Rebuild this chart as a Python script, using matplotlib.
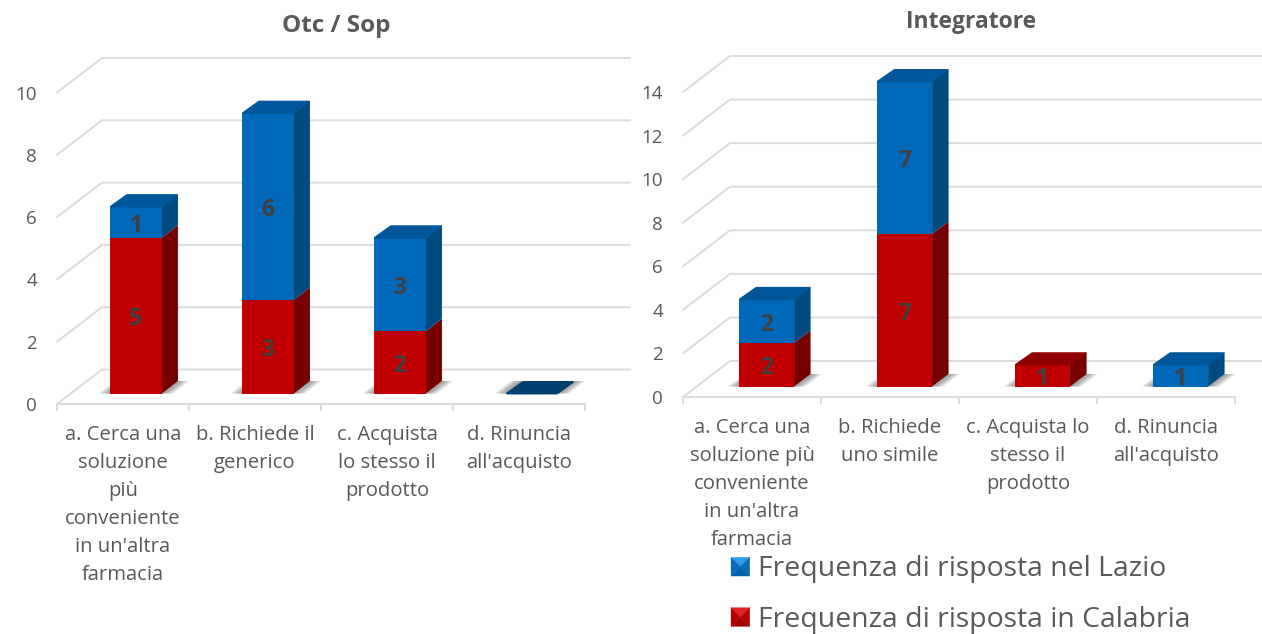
import matplotlib
matplotlib.use("Agg")
import matplotlib.pyplot as plt
from matplotlib.legend_handler import HandlerBase
from matplotlib.patches import Patch, Polygon

plt.rcParams["font.family"] = ["Open Sans", "DejaVu Sans"]

# Data
titles = ["Otc / Sop", "Integratore"]
labels_otc = ["a. Cerca una\nsoluzione\npiù\nconveniente\nin un'altra\nfarmacia",
              "b. Richiede il\ngenerico",
              "c. Acquista\nlo stesso il\nprodotto",
              "d. Rinuncia\nall'acquisto"]
labels_int = ["a. Cerca una\nsoluzione più\nconveniente\nin un'altra\nfarmacia",
              "b. Richiede\nuno simile",
              "c. Acquista lo\nstesso il\nprodotto",
              "d. Rinuncia\nall'acquisto"]
calabria_otc = [5, 3, 2, 0]
lazio_otc = [1, 6, 3, 0]
calabria_int = [2, 7, 1, 0]
lazio_int = [2, 7, 0, 1]
yticks_otc = [0, 2, 4, 6, 8, 10]
yticks_int = [0, 2, 4, 6, 8, 10, 12, 14]
legend_labels = ["Frequenza di risposta nel Lazio", "Frequenza di risposta in Calabria"]

# Colours
TEXT = "#595959"
VALUE_TEXT = "#404040"
GRID = "#dcdcdc"
BLUE = ("#0068b8", "#004a80", "#00569b")    # front, side, top
RED = ("#c00000", "#760000", "#8f0000")
EMPTY_TOP = "#003f6e"

W, H = 1262, 634
fig = plt.figure(figsize=(W / 100, H / 100), dpi=100, facecolor="white")


def make_axes(x0, x1, y_zero, y_top):
    return fig.add_axes([x0 / W, 1 - y_zero / H, (x1 - x0) / W, (y_zero - y_top) / H])


def parallelogram(ax, x0, x1, y, dx, dy, **kw):
    ax.add_patch(Polygon([(x0, y), (x1, y), (x1 + dx, y + dy), (x0 + dx, y + dy)],
                         closed=True, clip_on=False, **kw))


def draw_chart(ax, title, title_xy, categories, lower, upper, yticks, right_px,
               wall, depth, lift_px, width, offset, label_pad, title_size):
    n = len(categories)
    ymax = yticks[-1]
    bbox = ax.get_position()
    px_x = bbox.width * W / n          # pixels per category
    px_y = bbox.height * H / ymax      # pixels per unit
    ax.set_xlim(0, n)
    ax.set_ylim(0, ymax)
    ax.set_facecolor("none")
    wx, wy = wall[0] / px_x, wall[1] / px_y
    dx, dy = depth[0] / px_x, depth[1] / px_y
    lift = lift_px / px_y
    x_end = (right_px - bbox.x0 * W) / px_x

    # Side wall and back wall gridlines
    for v in yticks:
        ax.plot([0, wx, x_end], [v, v + wy, v + wy], color=GRID, lw=1.4,
                clip_on=False, zorder=1, solid_capstyle="round")

    # Axis and labels
    for side in ["top", "left", "right"]:
        ax.spines[side].set_visible(False)
    ax.spines["bottom"].set_color(GRID)
    ax.spines["bottom"].set_linewidth(1.5)
    ax.set_xticks(range(n + 1))
    ax.set_xticklabels([])
    ax.tick_params(axis="x", which="major", color=GRID, length=5, width=1.4)
    ax.set_xticks([i + 0.5 for i in range(n)], minor=True)
    ax.set_xticklabels(categories, minor=True, fontsize=14.6, color=TEXT,
                       linespacing=1.54, ha="center")
    ax.tick_params(axis="x", which="minor", length=0, pad=label_pad)
    ax.set_yticks(yticks)
    ax.set_yticklabels([str(v) for v in yticks], fontsize=13.5, color=TEXT)
    ax.tick_params(axis="y", length=0, pad=14.4)

    # Stacked bars with depth faces
    for i in range(n):
        xc = i + 0.5 + offset
        x0, x1 = xc - width / 2, xc + width / 2
        base = lift

        # Soft floor shadow
        for grow in (11, 9, 7, 5, 3):
            g = grow / px_x
            parallelogram(ax, x0 - g, x1 + g, base, dx, dy, fc="#707070", ec="none",
                          alpha=0.17, zorder=2)

        bottom = base
        top_colour = EMPTY_TOP
        for value, colours in ((lower[i], RED), (upper[i], BLUE)):
            if value == 0:
                continue
            ax.bar(xc, value, width=width, bottom=bottom, color=colours[0],
                   linewidth=0, clip_on=False, zorder=3)
            ax.add_patch(Polygon([(x1, bottom), (x1 + dx, bottom + dy),
                                  (x1 + dx, bottom + value + dy), (x1, bottom + value)],
                                 closed=True, fc=colours[1], ec="none",
                                 clip_on=False, zorder=3))
            ax.text(xc, bottom + value / 2 - 3.5 / px_y, str(value), ha="center", va="center",
                    fontsize=16.5, fontweight="bold", color=VALUE_TEXT, zorder=5)
            bottom += value
            top_colour = colours[2]
        # Top face: inset polygon with a thick round edge gives the bevelled corners
        parallelogram(ax, x0 + 1 / px_x, x1 - 1 / px_x, bottom, dx, dy - 1 / px_y,
                      fc=top_colour, ec=top_colour, lw=1.4, joinstyle="round", zorder=4)

    fig.text(title_xy[0] / W, 1 - title_xy[1] / H, title, ha="center", va="center",
             fontsize=title_size, fontweight="bold", color=TEXT)


ax_otc = make_axes(57, 585, 404, 92.5)
draw_chart(ax_otc, titles[0], (336, 26), labels_otc, calabria_otc, lazio_otc, yticks_otc,
           630, (45, 34.5), (16, 12.5), 10.5, 0.394, 0.098, 15.0, 17.5)

ax_int = make_axes(683, 1235, 397, 92)
draw_chart(ax_int, titles[1], (971, 22), labels_int, calabria_int, lazio_int, yticks_int,
           1262, (47, 36), (16.5, 12.5), 10.5, 0.40, 0.105, 15.0, 16.5)


class PyramidSquare(HandlerBase):
    """Legend key shaped as a square with four shaded bevel faces."""

    def create_artists(self, legend, orig, xdescent, ydescent, width, height, fontsize, trans):
        faces = orig.faces
        s = 13.5
        x0, y0 = -xdescent, -ydescent + (height - s) / 2
        x1, y1 = x0 + s, y0 + s
        mid = ((x0 + x1) / 2, (y0 + y1) / 2)
        corners = [((x0, y1), (x1, y1)), ((x1, y1), (x1, y0)),
                   ((x1, y0), (x0, y0)), ((x0, y0), (x0, y1))]
        return [Polygon([a, b, mid], closed=True, fc=c, ec=c, lw=0.2, transform=trans)
                for (a, b), c in zip(corners, faces)]


blue_key = Patch(label=legend_labels[0])
blue_key.faces = ("#2f9be8", "#0a6cb8", "#0060a8", "#0a6cb8")
red_key = Patch(label=legend_labels[1])
red_key.faces = ("#e42020", "#b40000", "#a00000", "#b40000")

fig.legend(handles=[blue_key, red_key], labels=legend_labels,
           handler_map={Patch: PyramidSquare()},
           loc="upper left", bbox_to_anchor=(731 / W, 1 - 554 / H), frameon=False,
           fontsize=20.4, labelcolor=TEXT, handlelength=0.66, handleheight=1,
           handletextpad=0.3, labelspacing=0.74, borderpad=0, borderaxespad=0)

fig.savefig("out.png", dpi=100, facecolor="white")
